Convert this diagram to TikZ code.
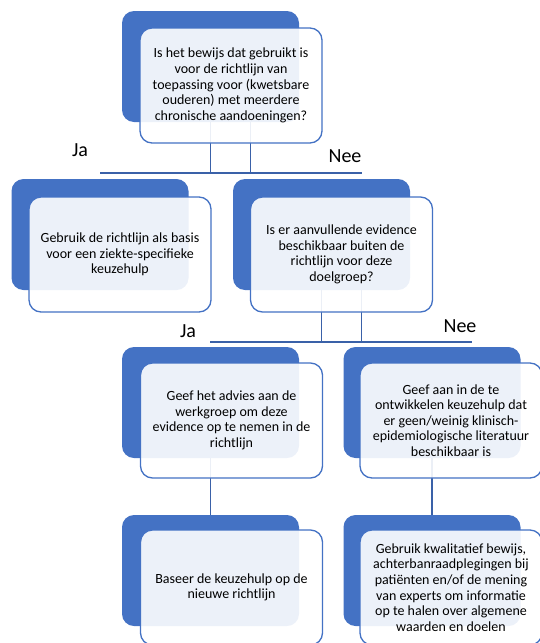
\documentclass[tikz,border=0pt]{standalone}
\usepackage{fontspec}
\setmainfont{Carlito}
\usepackage{tikz}
\definecolor{accent}{HTML}{4472C4}
\definecolor{linkblue}{HTML}{3A61A8}
\tikzstyle{back} = [fill=accent,rounded corners=12pt,minimum width=177pt,minimum height=111pt,inner sep=0]
\tikzstyle{front} = [draw=accent,line width=1.3pt,fill=white,fill opacity=0.9,text opacity=1,rounded corners=12pt,minimum width=182pt,minimum height=115pt,align=center,inner sep=1pt,font=\fontsize{14}{15.6}\selectfont]
\tikzstyle{edge} = [draw=linkblue,line width=1.7pt]
\tikzstyle{lbl} = [inner sep=0,font=\fontsize{20}{22}\selectfont]

\begin{document}
\begin{tikzpicture}[x=1pt,y=-1pt]
    \useasboundingbox (0,0) rectangle (540,643);

    % blue backs
    \node[back] (vraag_bg) at (210.5,66.5) {};
    \node[back] (basis_bg) at (100,234.5) {};
    \node[back] (extra_bg) at (321.5,234.5) {};
    \node[back] (advies_bg) at (210.5,402.5) {};
    \node[back] (geen_bg) at (432,402.5) {};
    \node[back] (nieuw_bg) at (210.5,570.5) {};
    \node[back] (kwal_bg) at (432,570.5) {};

    % connectors
    \coordinate (h1a) at (100,173);
    \coordinate (h1b) at (362,173);
    \coordinate (h2a) at (210,342);
    \coordinate (h2b) at (472,342);
    \draw[edge] (vraag_bg.south) -- (vraag_bg.south |- h1a);
    \draw[edge] ([xshift=40pt]vraag_bg.south) -- ([xshift=40pt]vraag_bg.south |- h1a);
    \draw[edge] (h1a) -- (h1b);
    \draw[edge] (extra_bg.south) -- (extra_bg.south |- h2a);
    \draw[edge] ([xshift=40pt]extra_bg.south) -- ([xshift=40pt]extra_bg.south |- h2a);
    \draw[edge] (h2a) -- (h2b);
    \draw[edge] (advies_bg.south) -- (nieuw_bg.north);
    \draw[edge] (geen_bg.south) -- (kwal_bg.north);

    % text boxes
    \node[front] (vraag) at (231,85.5) {Is het bewijs dat gebruikt is\\voor de richtlijn van\\toepassing voor (kwetsbare\\ouderen) met meerdere\\chronische aandoeningen?};
    \node[front] (basis) at (120,254.5) {Gebruik de richtlijn als basis\\voor een ziekte-specifieke\\keuzehulp};
    \node[front] (extra) at (341.5,254.5) {Is er aanvullende evidence\\beschikbaar buiten de\\richtlijn voor deze\\doelgroep?};
    \node[front] (advies) at (231.5,420.5) {Geef het advies aan de\\werkgroep om deze\\evidence op te nemen in de\\richtlijn};
    \node[front] (geen) at (451,420.5) {Geef aan in de te\\ontwikkelen keuzehulp dat\\er geen/weinig klinisch-\\epidemiologische literatuur\\beschikbaar is};
    \node[front] (nieuw) at (231.5,587.5) {Baseer de keuzehulp op de\\nieuwe richtlijn};
    \node[front] (kwal) at (451,587.5) {Gebruik kwalitatief bewijs,\\achterbanraadplegingen bij\\patiënten en/of de mening\\van experts om informatie\\op te halen over algemene\\waarden en doelen};

    % labels
    \node[lbl] (ja1) at (80,150) {Ja};
    \node[lbl] (nee1) at (345,156) {Nee};
    \node[lbl] (ja2) at (188,331) {Ja};
    \node[lbl] (nee2) at (460,326) {Nee};
\end{tikzpicture}
\end{document}
